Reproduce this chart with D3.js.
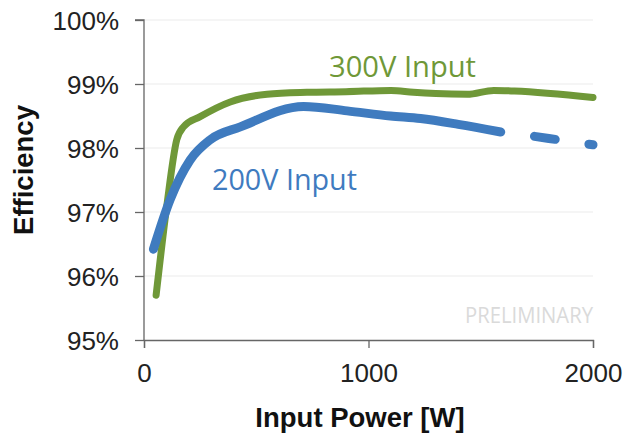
<!DOCTYPE html>
<html><head><meta charset="utf-8">
<script src="https://cdn.jsdelivr.net/npm/d3@7/dist/d3.min.js"></script>
<style>body{margin:0;background:#fff}svg{display:block}</style>
</head><body><svg id="c" width="625" height="435"></svg>
<script>
const xTicks = [0, 1000, 2000];
const yTicks = [95, 96, 97, 98, 99, 100];
const p300W   = [54, 101, 146, 176, 250, 384, 548, 726, 900, 1100, 1200, 1300, 1440, 1558, 1650, 2000];
const p300Eff = [95.70, 97.08, 98.13, 98.33, 98.49, 98.72, 98.84, 98.87, 98.88, 98.90, 98.87, 98.85, 98.84, 98.90, 98.89, 98.79];
const p200W   = [42, 116, 205, 295, 429, 711, 905, 1098, 1232, 1400, 1589];
const p200Eff = [96.42, 97.19, 97.81, 98.13, 98.33, 98.65, 98.58, 98.50, 98.46, 98.37, 98.25];
const p200DashW   = [1589, 1723, 1842, 2000];
const p200DashEff = [98.25, 98.19, 98.13, 98.05];

const svg = d3.select("#c");
const x = d3.scaleLinear().domain([0, 2000]).range([144, 593]);
const y = d3.scaleLinear().domain([95, 100]).range([340, 20]);
const green = "#6f9838", blue = "#3f7bbf";

// grid
svg.append("g").selectAll("line").data(yTicks.filter(d => d > 95)).join("line")
  .attr("x1", x(0)).attr("x2", x(2000)).attr("y1", d => y(d)).attr("y2", d => y(d))
  .attr("stroke", "#ebebeb").attr("stroke-width", 1);

// axes
const yAxis = svg.append("g").attr("transform", `translate(${x(0)},0)`)
  .call(d3.axisLeft(y).tickValues(yTicks).tickSize(9).tickPadding(16).tickFormat(d => d + "%"));
const xAxis = svg.append("g").attr("transform", `translate(0,${y(95)})`)
  .call(d3.axisBottom(x).tickValues(xTicks).tickSize(8).tickPadding(16).tickFormat(d3.format("d")));
[yAxis, xAxis].forEach(a => {
  a.select(".domain").attr("stroke", "#666").attr("stroke-width", 1.3);
  a.selectAll(".tick line").attr("stroke", "#666").attr("stroke-width", 1.3);
  a.selectAll("text").attr("font-family", "Liberation Sans, Arial, sans-serif")
    .attr("font-size", 26).attr("fill", "#222");
});
yAxis.select(".domain").attr("d", `M-9,${y(100)}H0V${y(95)}`);
yAxis.selectAll(".tick text").attr("dy", "0.36em");

// lines
const line = d3.line().x(d => x(d[0])).y(d => y(d[1])).curve(d3.curveMonotoneX);
const z = (a, b) => a.map((v, i) => [v, b[i]]);
svg.append("path").datum(z(p300W, p300Eff)).attr("d", line)
  .attr("fill", "none").attr("stroke", green).attr("stroke-width", 7)
  .attr("stroke-linecap", "round").attr("stroke-linejoin", "round");
svg.append("path").datum(z(p200W, p200Eff)).attr("d", line)
  .attr("fill", "none").attr("stroke", blue).attr("stroke-width", 9)
  .attr("stroke-linecap", "round").attr("stroke-linejoin", "round");
svg.append("path").datum(z(p200DashW, p200DashEff)).attr("d", line)
  .attr("fill", "none").attr("stroke", blue).attr("stroke-width", 9)
  .attr("stroke-linecap", "round").attr("stroke-dasharray", "21,34").attr("stroke-dashoffset", 21);

// labels
const lf = "'Open Sans', 'Noto Sans', sans-serif";
svg.append("text").attr("x", 329).attr("y", 77).attr("font-family", lf).attr("font-size", 29)
  .attr("fill", green).attr("textLength", 147).attr("lengthAdjust", "spacingAndGlyphs").text("300V Input");
svg.append("text").attr("x", 212).attr("y", 190).attr("font-family", lf).attr("font-size", 29)
  .attr("fill", blue).attr("textLength", 145).attr("lengthAdjust", "spacingAndGlyphs").text("200V Input");
svg.append("text").attr("x", 465).attr("y", 323).attr("font-family", lf).attr("font-size", 21)
  .attr("fill", "#dadada").attr("textLength", 128).attr("lengthAdjust", "spacingAndGlyphs").text("PRELIMINARY");

svg.append("text").attr("transform", "translate(33,170) rotate(-90)").attr("text-anchor", "middle")
  .attr("font-family", "Liberation Sans, Arial, sans-serif").attr("font-weight", "bold")
  .attr("font-size", 27.5).attr("fill", "#111").text("Efficiency");
svg.append("text").attr("x", 360).attr("y", 427).attr("text-anchor", "middle")
  .attr("font-family", "Liberation Sans, Arial, sans-serif").attr("font-weight", "bold")
  .attr("font-size", 27.5).attr("fill", "#111").text("Input Power [W]");
</script></body></html>
